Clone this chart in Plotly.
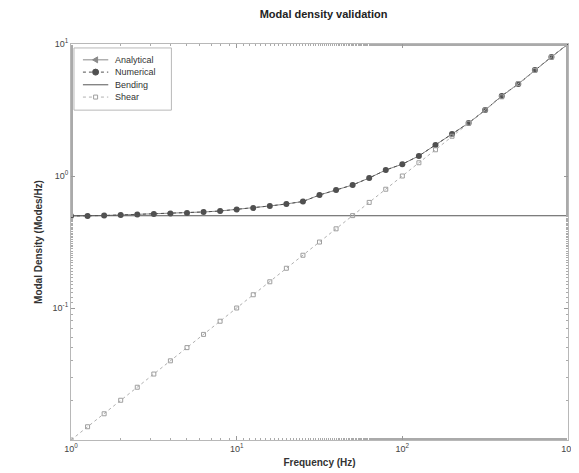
import plotly.graph_objects as go

# Frequencies (Hz), 10 points per decade from 1 to 1000
freq = [1.0, 1.259, 1.585, 1.995, 2.512, 3.162, 3.981, 5.012, 6.310, 7.943,
        10.0, 12.59, 15.85, 19.95, 25.12, 31.62, 39.81, 50.12, 63.10, 79.43,
        100.0, 125.9, 158.5, 199.5, 251.2, 316.2, 398.1, 501.2, 631.0, 794.3, 1000.0]

numerical = [0.498, 0.498, 0.502, 0.507, 0.511, 0.516, 0.520, 0.525, 0.534, 0.543,
             0.557, 0.573, 0.593, 0.614, 0.641, 0.718, 0.783, 0.855, 0.966, 1.11,
             1.23, 1.42, 1.72, 2.08, 2.52, 3.16, 4.04, 4.98, 6.35, 7.98, 10.0]

analytical = [0.498, 0.498, 0.502, 0.507, 0.511, 0.516, 0.520, 0.525, 0.534, 0.543,
              0.557, 0.573, 0.593, 0.614, 0.641, 0.718, 0.783, 0.855, 0.966, 1.11,
              1.23, 1.42, 1.72, 2.08, 2.52, 3.16, 4.04, 4.98, 6.35, 7.98, 10.0]

bending = [0.5] * 31

shear = [0.0100, 0.0126, 0.0158, 0.0200, 0.0251, 0.0316, 0.0398, 0.0501, 0.0631, 0.0794,
         0.100, 0.126, 0.158, 0.200, 0.251, 0.316, 0.398, 0.501, 0.631, 0.794,
         1.00, 1.26, 1.58, 2.00, 2.51, 3.16, 3.98, 5.01, 6.31, 7.94, 10.0]

series_names = ["Analytical", "Numerical", "Bending", "Shear"]

x_tickvals = [1, 10, 100, 1000]
x_ticktext = ["10<sup>0</sup>", "10<sup>1</sup>", "10<sup>2</sup>", "10<sup>3</sup>"]
y_tickvals = [0.1, 1, 10]
y_ticktext = ["10<sup>-1</sup>", "10<sup>0</sup>", "10<sup>1</sup>"]

C_ANA = "#8a8a8a"
C_NUM = "#505050"
C_BEND = "#555555"
C_SHEAR = "#9e9e9e"
FONT = "Liberation Sans, Arial"

fig = go.Figure()
fig.add_trace(go.Scatter(x=freq, y=analytical, name=series_names[0], mode="lines+markers",
                         line=dict(color=C_ANA, width=1),
                         marker=dict(symbol="triangle-left", size=5, color=C_ANA)))
fig.add_trace(go.Scatter(x=freq, y=numerical, name=series_names[1], mode="lines+markers",
                         line=dict(color=C_NUM, width=1, dash="dot"),
                         marker=dict(symbol="circle", size=6, color=C_NUM)))
fig.add_trace(go.Scatter(x=freq, y=bending, name=series_names[2], mode="lines",
                         line=dict(color=C_BEND, width=1)))
fig.add_trace(go.Scatter(x=freq, y=shear, name=series_names[3], mode="lines+markers",
                         line=dict(color="#b0b0b0", width=1, dash="dot"),
                         marker=dict(symbol="square-open", size=4, color=C_SHEAR)))

axis_common = dict(type="log", showgrid=False, zeroline=False, showline=True,
                   linecolor="#b8b8b8", linewidth=1, mirror="ticks",
                   ticks="inside", ticklen=4, tickcolor="#999999",
                   minor=dict(ticks="inside", ticklen=2, tickcolor="#aaaaaa"),
                   ticklabeloverflow="allow",
                   tickfont=dict(family=FONT, size=9, color="#444444"))

fig.update_xaxes(range=[0, 3], tickmode="array", tickvals=x_tickvals, ticktext=x_ticktext,
                 title=dict(text="<b>Frequency (Hz)</b>", font=dict(family=FONT, size=10, color="#333333"), standoff=6),
                 **axis_common)
fig.update_yaxes(range=[-2, 1], tickmode="array", tickvals=y_tickvals, ticktext=y_ticktext,
                 title=dict(text="<b>Modal Density (Modes/Hz)</b>", font=dict(family=FONT, size=10, color="#333333"), standoff=8),
                 **axis_common)

# Compact legend box (drawn as shapes + annotations, like the reference)
shapes = [dict(type="rect", xref="paper", yref="paper", x0=0.006, x1=0.202, y0=0.833, y1=0.990,
               line=dict(color="#b8b8b8", width=1), fillcolor="white", layer="above")]
annotations = []
entry_y = [0.960, 0.929, 0.897, 0.866]
line_styles = [dict(color=C_ANA, width=1), dict(color=C_NUM, width=1, dash="dot"),
               dict(color=C_BEND, width=1), dict(color="#b0b0b0", width=1, dash="dot")]
for name, yy, ls in zip(series_names, entry_y, line_styles):
    shapes.append(dict(type="line", xref="paper", yref="paper", x0=0.024, x1=0.075, y0=yy, y1=yy,
                       line=ls, layer="above"))
    annotations.append(dict(text=name, xref="paper", yref="paper", x=0.085, y=yy,
                            xanchor="left", yanchor="middle", showarrow=False,
                            font=dict(family=FONT, size=9, color="#333333")))
# legend glyph markers
shapes.append(dict(type="path", xref="paper", yref="paper", xsizemode="pixel", ysizemode="pixel",
                   xanchor=0.0495, yanchor=entry_y[0], path="M -3,0 L 2,3 L 2,-3 Z",
                   fillcolor=C_ANA, line=dict(color=C_ANA, width=1), layer="above"))
shapes.append(dict(type="circle", xref="paper", yref="paper", xsizemode="pixel", ysizemode="pixel",
                   xanchor=0.0495, yanchor=entry_y[1], x0=-3, x1=3, y0=-3, y1=3,
                   fillcolor=C_NUM, line=dict(color=C_NUM, width=1), layer="above"))
shapes.append(dict(type="rect", xref="paper", yref="paper", xsizemode="pixel", ysizemode="pixel",
                   xanchor=0.0495, yanchor=entry_y[3], x0=-2, x1=2, y0=-2, y1=2,
                   fillcolor="white", line=dict(color=C_SHEAR, width=1), layer="above"))

fig.update_layout(
    width=579, height=473,
    margin=dict(l=63, r=12, t=36, b=41),
    paper_bgcolor="white", plot_bgcolor="white",
    title=dict(text="<b>Modal density validation</b>", x=0.545, xanchor="center", y=0.995, yanchor="top",
               font=dict(family=FONT, size=11, color="#222222")),
    showlegend=False,
    shapes=shapes,
    annotations=annotations,
)

fig.write_html("out.html")
